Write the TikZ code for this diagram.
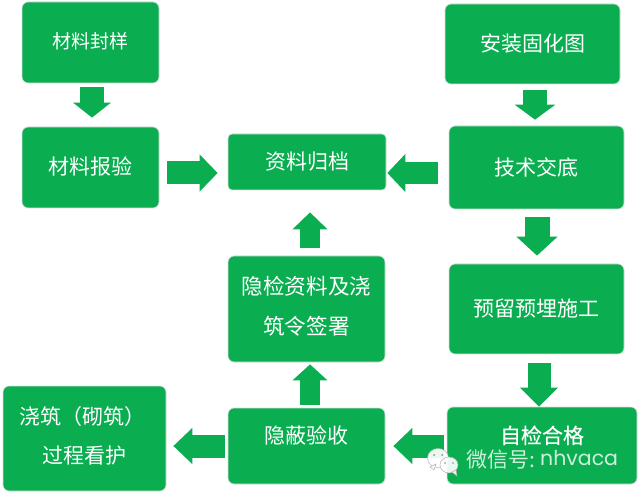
\documentclass[tikz,border=0pt]{standalone}
\usepackage{fontspec}
\setmainfont{Noto Sans CJK SC}
\newfontfamily\latinwm{Poppins}
\newfontfamily\semibold[FakeBold=0.35]{Noto Sans CJK SC}
\usetikzlibrary{arrows.meta}
\definecolor{ggreen}{RGB}{10,174,80}
\definecolor{gedge}{RGB}{214,222,217}
\newcommand{\bx}[2]{\raisebox{#1}{\begin{tabular}{@{}c@{}}#2\end{tabular}}}
\tikzset{
  x=1pt,y=-1pt,
  gbox/.style={rectangle,rounded corners=6pt,fill=ggreen,draw=gedge,line width=.7pt,inner sep=0pt,
    text=white,align=center,font=\fontsize{21}{25}\selectfont},
  small txt/.style={font=\fontsize{19}{23}\selectfont},
  bar/.style n args={3}{draw=ggreen,line width=#1,-{Triangle[length=#3,width=#2,fill=ggreen,color=ggreen]}},
  watermark/.style={text=white!80!ggreen,inner sep=0pt},
  bubble/.style={fill=white,draw=black!30,line width=.5pt,fill opacity=.92},
}
\begin{document}
\begin{tikzpicture}
\useasboundingbox (0,0) rectangle (640,494);
% boxes
\node[gbox,small txt,minimum width=137pt,minimum height=81pt] (fy) at (90.5,42.5) {\raisebox{4pt}{材料封样}};
\node[gbox,minimum width=137pt,minimum height=81pt] (by) at (90.5,167.5) {\raisebox{3.5pt}{材料报验}};
\node[gbox,rounded corners=4pt,minimum width=158pt,minimum height=56pt] (gd) at (307,162) {\raisebox{3pt}{资料归档}};
\node[gbox,minimum width=175pt,minimum height=80pt] (gh) at (532.5,44) {\raisebox{2pt}{安装固化图}};
\node[gbox,minimum width=175pt,minimum height=83pt] (jd) at (536.5,167.5) {\raisebox{.5pt}{技术交底}};
\node[gbox,minimum width=175pt,minimum height=90pt] (yl) at (536.5,309) {\raisebox{1pt}{预留预埋施工}};
\node[gbox,minimum width=190pt,minimum height=77pt] (zj) at (542,445.5) {\raisebox{22pt}{\semibold\fontsize{21}{25}\selectfont 自检合格}};
\node[gbox,font=\fontsize{21.6}{25}\selectfont,minimum width=157pt,minimum height=106pt] (yj) at (306.5,309) {\bx{15pt}{隐检资料及浇\\[14pt]筑令签署}};
\node[gbox,minimum width=157pt,minimum height=76pt] (ys) at (306.5,446) {\raisebox{23pt}{隐蔽验收}};
\node[gbox,minimum width=163pt,minimum height=105pt] (jz) at (84.5,438.5) {\bx{10pt}{\hspace*{-3pt}浇筑（砌筑）\\[14pt]过程看护}};
% block arrows
\draw[bar={24pt}{37pt}{15pt}] ([xshift=1.5pt,yshift=-4pt]fy.south) -- ([xshift=1.5pt,yshift=9pt]by.north);
\draw[bar={23pt}{36pt}{18pt}] ([xshift=8pt,yshift=-5.5pt]by.east) -- ([xshift=-10pt,yshift=-11pt]gd.west);
\draw[bar={22pt}{37pt}{18pt}] ([xshift=-11pt,yshift=-5.5pt]jd.west) -- ([xshift=1pt,yshift=-11pt]gd.east);
\draw[bar={24pt}{40pt}{15pt}] ([xshift=2.5pt,yshift=-6pt]gh.south) -- ([xshift=-1.5pt,yshift=6pt]jd.north);
\draw[bar={25pt}{40pt}{19pt}] ([xshift=.5pt,yshift=-8pt]jd.south) -- ([xshift=.5pt,yshift=8pt]yl.north);
\draw[bar={23pt}{37pt}{19pt}] ([xshift=2.5pt,yshift=-9pt]yl.south) -- ([xshift=-3pt,yshift=0pt]zj.north);
\draw[bar={20pt}{34pt}{17pt}] ([xshift=3.5pt,yshift=8pt]yj.north) -- ([xshift=3pt,yshift=-22pt]gd.south);
\draw[bar={20pt}{34pt}{16pt}] ([xshift=3.5pt,yshift=3pt]ys.north) -- ([xshift=3.5pt,yshift=-2pt]yj.south);
\draw[bar={23pt}{35pt}{19pt}] ([xshift=-3pt]ys.west) -- ([xshift=7pt,yshift=-7.5pt]jz.east);
\draw[bar={23pt}{35pt}{19pt}] ([xshift=-3pt,yshift=-.5pt]zj.west) -- ([xshift=8pt]ys.east);
% watermark
\node[watermark,font=\fontsize{21}{25}\selectfont,anchor=west] (wm1) at (466,460) {微信号:};
\node[watermark,font=\latinwm\fontsize{20.5}{25}\selectfont,anchor=west] (wm2) at (540,458) {nhvaca};
\draw[bubble] (438,458) ellipse [x radius=10.5pt,y radius=9.5pt];
\draw[bubble] (430,467) -- (436,464) -- (434,470) -- cycle;
\draw[bubble] (449,465) ellipse [x radius=9pt,y radius=8pt];
\draw[bubble] (456,470) -- (452,472) -- (457,476) -- cycle;
\fill[black!45] (434,455) circle (1pt) (442,455) circle (1pt) (445,463) circle (.9pt) (453,463) circle (.9pt);
\end{tikzpicture}
\end{document}
